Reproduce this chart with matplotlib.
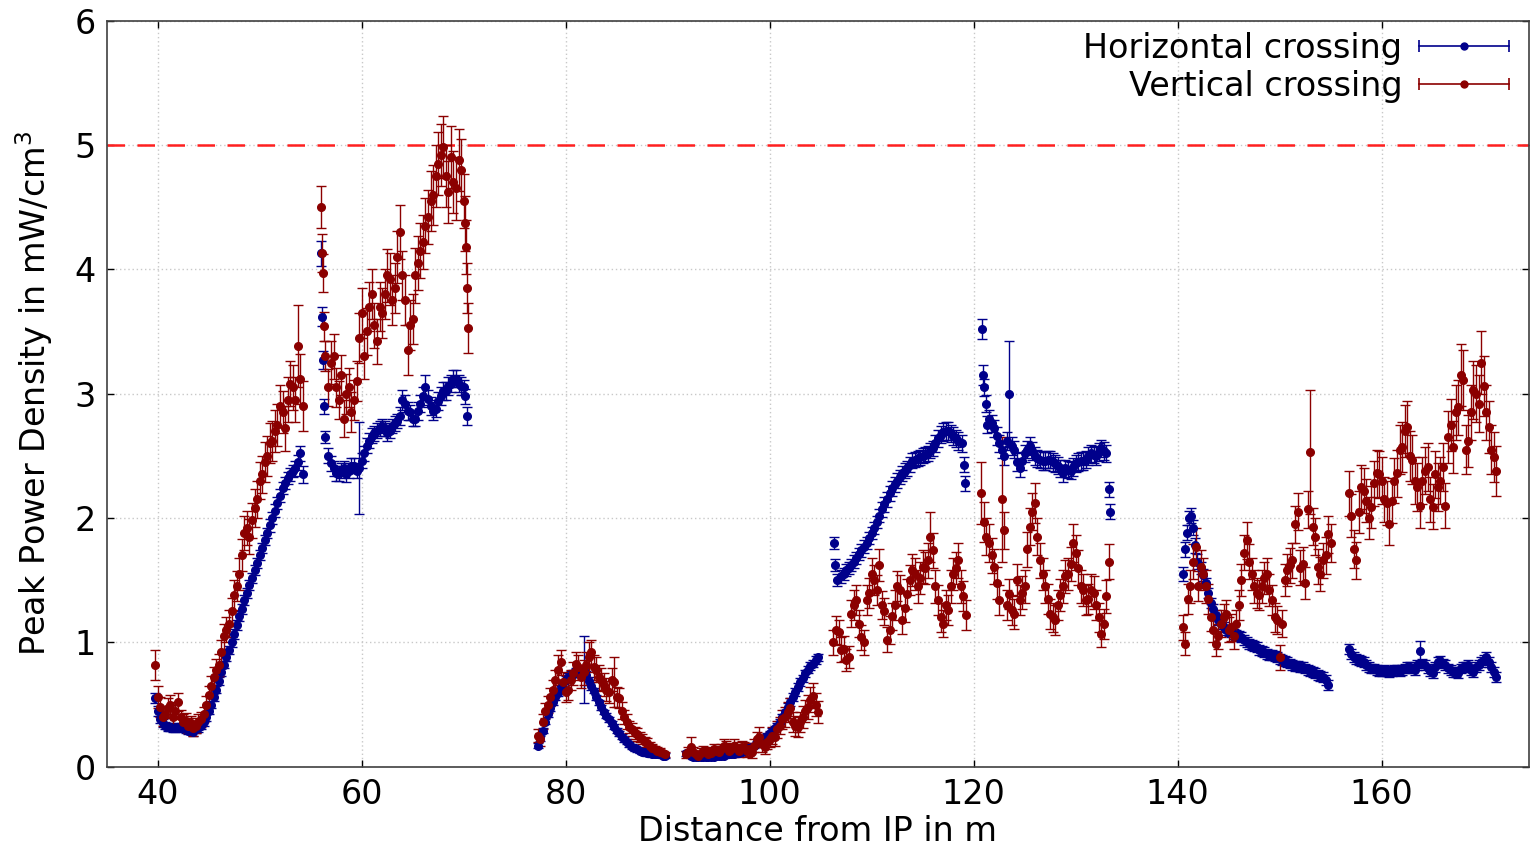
import numpy as np
import matplotlib.pyplot as plt
from matplotlib.lines import Line2D
from matplotlib.legend_handler import HandlerBase

# Peak power density along the beam line, binned per section.
# Each section: first bin centre [m], bin width [m], values, errors.

# --- horizontal crossing ---
h_a = (39.75, 0.25)
h_a_y = [0.55, 0.45, 0.38, 0.35, 0.33, 0.32, 0.32, 0.31, 0.31, 0.32,
         0.32, 0.31, 0.30, 0.29, 0.29, 0.28, 0.30, 0.31, 0.33, 0.36,
         0.40, 0.45, 0.50, 0.56, 0.62, 0.69, 0.76, 0.82, 0.88, 0.94,
         1.00, 1.07, 1.14, 1.21, 1.27, 1.34, 1.40, 1.46, 1.52, 1.58,
         1.64, 1.70, 1.76, 1.82, 1.88, 1.94, 2.00, 2.06, 2.12, 2.18,
         2.24, 2.28, 2.32, 2.35, 2.38, 2.40, 2.45, 2.52, 2.35]
h_a_e = [0.04, 0.04, 0.03, 0.03, 0.03, 0.03, 0.03, 0.03, 0.03, 0.03,
         0.03, 0.03, 0.03, 0.03, 0.03, 0.03, 0.03, 0.03, 0.03, 0.03,
         0.03, 0.03, 0.03, 0.03, 0.03, 0.03, 0.03, 0.03, 0.03, 0.03,
         0.04, 0.04, 0.04, 0.04, 0.04, 0.04, 0.04, 0.04, 0.04, 0.04,
         0.04, 0.04, 0.04, 0.04, 0.04, 0.05, 0.05, 0.05, 0.05, 0.05,
         0.05, 0.05, 0.05, 0.05, 0.05, 0.06, 0.06, 0.06, 0.07]

h_b1 = (56.0, 0.1)
h_b1_y = [4.13, 3.62, 3.27, 2.90, 2.65]
h_b1_e = [0.10, 0.08, 0.07, 0.06, 0.05]
h_b2 = (56.75, 0.25)
h_b2_y = [2.50, 2.44, 2.40, 2.36, 2.36, 2.38, 2.40, 2.35, 2.38, 2.42,
          2.42, 2.38, 2.40, 2.46, 2.52, 2.58, 2.62, 2.66, 2.68, 2.70,
          2.72, 2.74, 2.72, 2.68, 2.70, 2.74, 2.76, 2.78, 2.82, 2.95,
          2.92, 2.86, 2.85, 2.80, 2.80, 2.86, 2.92, 2.98, 3.05, 2.96,
          2.90, 2.86, 2.88, 2.94, 2.98, 3.02, 3.02, 3.06, 3.08, 3.12,
          3.12, 3.08, 3.06]
h_b2_e = [0.06, 0.06, 0.06, 0.06, 0.06, 0.06, 0.06, 0.06, 0.06, 0.06,
          0.06, 0.06, 0.37, 0.06, 0.06, 0.06, 0.06, 0.06, 0.06, 0.06,
          0.06, 0.06, 0.06, 0.06, 0.06, 0.06, 0.06, 0.06, 0.07, 0.08,
          0.07, 0.07, 0.06, 0.06, 0.06, 0.07, 0.07, 0.07, 0.10, 0.07,
          0.07, 0.07, 0.07, 0.07, 0.07, 0.07, 0.07, 0.07, 0.07, 0.07,
          0.07, 0.07, 0.07]
h_b3 = (70.0, 0.15)
h_b3_y = [3.05, 2.98, 2.82]
h_b3_e = [0.06, 0.06, 0.07]

h_c = (77.25, 0.25)
h_c_y = [0.17, 0.23, 0.29, 0.36, 0.42, 0.47, 0.52, 0.56, 0.59, 0.63,
         0.67, 0.70, 0.72, 0.74, 0.75, 0.76, 0.77, 0.78, 0.78, 0.74,
         0.69, 0.65, 0.61, 0.56, 0.52, 0.48, 0.44, 0.41, 0.38, 0.35,
         0.32, 0.29, 0.27, 0.24, 0.22, 0.20, 0.18, 0.16, 0.15, 0.14,
         0.13, 0.12, 0.12, 0.11, 0.11, 0.10, 0.10, 0.10, 0.10, 0.09,
         0.09]
h_c_e = [0.02, 0.02, 0.02, 0.02, 0.02, 0.02, 0.02, 0.02, 0.02, 0.02,
         0.03, 0.03, 0.03, 0.03, 0.03, 0.03, 0.03, 0.03, 0.27, 0.03,
         0.03, 0.03, 0.02, 0.02, 0.02, 0.02, 0.02, 0.02, 0.02, 0.02,
         0.02, 0.02, 0.02, 0.02, 0.02, 0.02, 0.02, 0.02, 0.02, 0.02,
         0.02, 0.02, 0.02, 0.02, 0.02, 0.02, 0.02, 0.02, 0.02, 0.02,
         0.02]

h_d = (91.75, 0.25)
h_d_y = [0.11, 0.10, 0.09, 0.08, 0.08, 0.08, 0.08, 0.08, 0.08, 0.08,
         0.08, 0.08, 0.09, 0.09, 0.09, 0.09, 0.10, 0.10, 0.10, 0.10,
         0.11, 0.11, 0.12, 0.13, 0.14, 0.15, 0.16, 0.17, 0.19, 0.20,
         0.22, 0.23, 0.25, 0.27, 0.29, 0.31, 0.33, 0.36, 0.40, 0.44,
         0.48, 0.52, 0.56, 0.60, 0.64, 0.68, 0.71, 0.75, 0.78, 0.81,
         0.83, 0.86, 0.88]
h_d_e = [0.02, 0.02, 0.02, 0.02, 0.02, 0.02, 0.02, 0.02, 0.02, 0.02,
         0.02, 0.02, 0.02, 0.02, 0.02, 0.02, 0.02, 0.02, 0.02, 0.02,
         0.02, 0.02, 0.02, 0.02, 0.02, 0.02, 0.02, 0.02, 0.02, 0.02,
         0.02, 0.02, 0.02, 0.02, 0.02, 0.02, 0.02, 0.02, 0.02, 0.02,
         0.03, 0.03, 0.03, 0.03, 0.03, 0.03, 0.03, 0.03, 0.03, 0.03,
         0.03, 0.03, 0.03]

h_e1 = (106.3, 0.15)
h_e1_y = [1.80, 1.62, 1.50]
h_e1_e = [0.05, 0.05, 0.05]
h_e2 = (107.0, 0.25)
h_e2_y = [1.53, 1.55, 1.58, 1.60, 1.62, 1.65, 1.68, 1.71, 1.74, 1.77,
          1.80, 1.84, 1.88, 1.92, 1.97, 2.02, 2.07, 2.11, 2.15, 2.20,
          2.24, 2.27, 2.30, 2.33, 2.36, 2.38, 2.40, 2.43, 2.46, 2.47,
          2.48, 2.49, 2.50, 2.51, 2.52, 2.54, 2.56, 2.60, 2.64, 2.67,
          2.69, 2.70, 2.70, 2.68, 2.66, 2.64, 2.62]
h_e2_e = [0.05, 0.05, 0.05, 0.05, 0.05, 0.05, 0.05, 0.05, 0.05, 0.05,
          0.05, 0.05, 0.05, 0.05, 0.05, 0.05, 0.06, 0.06, 0.06, 0.06,
          0.06, 0.06, 0.06, 0.06, 0.06, 0.06, 0.06, 0.06, 0.06, 0.06,
          0.06, 0.06, 0.06, 0.06, 0.06, 0.06, 0.06, 0.07, 0.07, 0.07,
          0.07, 0.07, 0.07, 0.07, 0.07, 0.07, 0.07]
h_e3 = (118.9, 0.12)
h_e3_y = [2.60, 2.43, 2.28]
h_e3_e = [0.07, 0.06, 0.06]

h_f1 = (120.8, 0.12)
h_f1_y = [3.52, 3.15, 3.05, 2.92, 2.75]
h_f1_e = [0.08, 0.08, 0.07, 0.07, 0.07]
h_f2 = (121.5, 0.25)
h_f2_y = [2.80, 2.76, 2.72, 2.66, 2.60, 2.55, 2.50, 2.62, 3.00, 2.58,
          2.55, 2.45, 2.40, 2.46, 2.52, 2.55, 2.58, 2.54, 2.50, 2.48,
          2.47, 2.46, 2.46, 2.47, 2.47, 2.45, 2.44, 2.42, 2.40, 2.36,
          2.40, 2.39, 2.38, 2.41, 2.44, 2.45, 2.46, 2.46, 2.47, 2.50,
          2.52, 2.51, 2.50, 2.53, 2.56, 2.54, 2.52]
h_f2_e = [0.07, 0.07, 0.07, 0.07, 0.07, 0.07, 0.07, 0.07, 0.42, 0.07,
          0.07, 0.07, 0.07, 0.07, 0.07, 0.07, 0.07, 0.07, 0.07, 0.07,
          0.07, 0.07, 0.07, 0.07, 0.07, 0.07, 0.07, 0.07, 0.07, 0.07,
          0.07, 0.07, 0.07, 0.07, 0.07, 0.07, 0.07, 0.07, 0.07, 0.07,
          0.07, 0.07, 0.07, 0.07, 0.07, 0.07, 0.07]
h_f3 = (133.3, 0.1)
h_f3_y = [2.23, 2.05]
h_f3_e = [0.06, 0.06]

h_g1 = (140.5, 0.2)
h_g1_y = [1.55, 1.75, 1.88, 2.00, 2.02, 1.92, 1.78, 1.65]
h_g1_e = [0.06, 0.06, 0.06, 0.06, 0.06, 0.06, 0.06, 0.06]
h_g2 = (142.25, 0.25)
h_g2_y = [1.60, 1.54, 1.48, 1.40, 1.32, 1.27, 1.22, 1.18, 1.15, 1.12,
          1.10, 1.09, 1.08, 1.07, 1.06, 1.05, 1.04, 1.02, 1.00, 0.99,
          0.98, 0.97, 0.96, 0.94, 0.93, 0.92, 0.91, 0.90, 0.90, 0.89,
          0.88, 0.87, 0.86, 0.85, 0.84, 0.83, 0.82, 0.81, 0.81, 0.80,
          0.80, 0.79, 0.78, 0.77, 0.76, 0.75, 0.74, 0.73, 0.72, 0.70,
          0.66]
h_g2_e = [0.05, 0.05, 0.04, 0.04, 0.04, 0.04, 0.04, 0.04, 0.04, 0.04,
          0.04, 0.04, 0.04, 0.04, 0.04, 0.04, 0.04, 0.04, 0.04, 0.04,
          0.04, 0.04, 0.04, 0.04, 0.04, 0.04, 0.04, 0.04, 0.04, 0.04,
          0.04, 0.04, 0.04, 0.04, 0.04, 0.04, 0.04, 0.04, 0.04, 0.04,
          0.04, 0.04, 0.04, 0.04, 0.04, 0.04, 0.04, 0.04, 0.04, 0.04,
          0.04]

h_h = (156.75, 0.25)
h_h_y = [0.95, 0.91, 0.88, 0.87, 0.86, 0.85, 0.84, 0.82, 0.80, 0.79,
         0.79, 0.78, 0.77, 0.77, 0.78, 0.77, 0.76, 0.77, 0.78, 0.78,
         0.77, 0.78, 0.79, 0.80, 0.80, 0.79, 0.78, 0.82, 0.93, 0.83,
         0.82, 0.79, 0.77, 0.75, 0.80, 0.84, 0.85, 0.83, 0.82, 0.79,
         0.78, 0.76, 0.76, 0.75, 0.79, 0.80, 0.80, 0.82, 0.78, 0.76,
         0.80, 0.82, 0.84, 0.86, 0.88, 0.84, 0.80, 0.76, 0.72]
h_h_e = [0.04, 0.04, 0.04, 0.04, 0.04, 0.04, 0.04, 0.04, 0.04, 0.04,
         0.04, 0.04, 0.04, 0.04, 0.04, 0.04, 0.04, 0.04, 0.04, 0.04,
         0.04, 0.04, 0.04, 0.04, 0.04, 0.04, 0.04, 0.04, 0.08, 0.04,
         0.04, 0.04, 0.04, 0.04, 0.04, 0.04, 0.04, 0.04, 0.04, 0.04,
         0.04, 0.04, 0.04, 0.04, 0.04, 0.04, 0.04, 0.04, 0.04, 0.04,
         0.04, 0.04, 0.04, 0.04, 0.04, 0.04, 0.04, 0.04, 0.04]

# --- vertical crossing ---
v_a = (39.75, 0.25)
v_a_y = [0.82, 0.56, 0.48, 0.40, 0.42, 0.47, 0.50, 0.40, 0.45, 0.52,
         0.40, 0.36, 0.37, 0.33, 0.35, 0.31, 0.33, 0.36, 0.38, 0.42,
         0.50, 0.58, 0.65, 0.72, 0.78, 0.82, 0.92, 1.05, 1.10, 1.15,
         1.25, 1.38, 1.45, 1.55, 1.70, 1.88, 1.92, 1.85, 1.98, 2.08,
         2.15, 2.30, 2.35, 2.45, 2.50, 2.60, 2.62, 2.70, 2.75, 2.90,
         2.85, 2.72, 2.95, 3.08, 3.05, 2.95, 3.38, 3.12, 2.90]
v_a_e = [0.12, 0.09, 0.08, 0.07, 0.07, 0.08, 0.08, 0.07, 0.07, 0.07,
         0.06, 0.06, 0.06, 0.06, 0.06, 0.06, 0.06, 0.06, 0.06, 0.06,
         0.07, 0.07, 0.08, 0.08, 0.09, 0.09, 0.10, 0.10, 0.10, 0.11,
         0.11, 0.12, 0.12, 0.13, 0.13, 0.14, 0.14, 0.14, 0.14, 0.15,
         0.15, 0.15, 0.15, 0.16, 0.16, 0.16, 0.16, 0.17, 0.17, 0.17,
         0.17, 0.18, 0.18, 0.18, 0.18, 0.18, 0.33, 0.20, 0.20]

v_b1 = (56.0, 0.1)
v_b1_y = [4.50, 4.13, 3.97, 3.54, 3.30]
v_b1_e = [0.17, 0.15, 0.15, 0.12, 0.12]
v_b2 = (56.75, 0.25)
v_b2_y = [3.05, 3.25, 3.30, 3.05, 2.95, 3.15, 2.80, 3.00, 3.05, 2.85,
          2.95, 3.10, 3.45, 3.65, 3.30, 3.50, 3.70, 3.80, 3.55, 3.42,
          3.70, 3.65, 3.80, 3.95, 3.92, 3.75, 3.85, 4.10, 4.30, 3.95,
          3.75, 3.35, 3.55, 3.60, 3.95, 4.05, 4.15, 4.22, 4.35, 4.42,
          4.55, 4.60, 4.75, 4.85, 4.92, 4.98, 4.75, 4.62, 4.90, 4.70,
          4.65, 4.88, 4.80]
v_b2_e = [0.15, 0.17, 0.18, 0.16, 0.15, 0.16, 0.15, 0.16, 0.16, 0.16,
          0.16, 0.16, 0.20, 0.20, 0.18, 0.19, 0.20, 0.20, 0.18, 0.18,
          0.20, 0.20, 0.20, 0.21, 0.21, 0.20, 0.20, 0.21, 0.22, 0.20,
          0.20, 0.20, 0.20, 0.20, 0.22, 0.22, 0.22, 0.22, 0.22, 0.22,
          0.24, 0.24, 0.25, 0.25, 0.25, 0.25, 0.25, 0.25, 0.25, 0.25,
          0.25, 0.25, 0.25]
v_b3 = (70.0, 0.1)
v_b3_y = [4.55, 4.37, 4.18, 3.85, 3.53]
v_b3_e = [0.22, 0.22, 0.22, 0.20, 0.20]

v_c = (77.25, 0.25)
v_c_y = [0.25, 0.22, 0.36, 0.45, 0.50, 0.56, 0.62, 0.70, 0.78, 0.84,
         0.68, 0.60, 0.62, 0.70, 0.75, 0.83, 0.80, 0.72, 0.76, 0.82,
         0.88, 0.92, 0.80, 0.78, 0.72, 0.70, 0.66, 0.62, 0.60, 0.70,
         0.68, 0.56, 0.55, 0.45, 0.40, 0.36, 0.32, 0.30, 0.27, 0.26,
         0.24, 0.22, 0.20, 0.19, 0.17, 0.15, 0.14, 0.13, 0.12, 0.11,
         0.10]
v_c_e = [0.05, 0.05, 0.06, 0.06, 0.07, 0.07, 0.08, 0.08, 0.12, 0.10,
         0.08, 0.08, 0.08, 0.08, 0.09, 0.09, 0.10, 0.09, 0.10, 0.10,
         0.12, 0.10, 0.10, 0.10, 0.10, 0.09, 0.09, 0.09, 0.09, 0.09,
         0.20, 0.08, 0.08, 0.07, 0.06, 0.06, 0.05, 0.05, 0.05, 0.05,
         0.04, 0.04, 0.04, 0.04, 0.03, 0.03, 0.03, 0.03, 0.03, 0.02,
         0.02]

v_d = (91.75, 0.25)
v_d_y = [0.10, 0.12, 0.16, 0.12, 0.10, 0.09, 0.11, 0.13, 0.12, 0.10,
         0.11, 0.14, 0.13, 0.12, 0.14, 0.17, 0.16, 0.13, 0.14, 0.17,
         0.15, 0.13, 0.16, 0.15, 0.13, 0.14, 0.12, 0.17, 0.22, 0.24,
         0.18, 0.16, 0.20, 0.22, 0.25, 0.24, 0.30, 0.33, 0.38, 0.40,
         0.44, 0.47, 0.36, 0.33, 0.32, 0.36, 0.40, 0.45, 0.48, 0.54,
         0.57, 0.50, 0.44]
v_d_e = [0.03, 0.04, 0.08, 0.04, 0.03, 0.03, 0.04, 0.04, 0.04, 0.04,
         0.04, 0.04, 0.04, 0.04, 0.04, 0.05, 0.05, 0.05, 0.05, 0.05,
         0.05, 0.05, 0.05, 0.05, 0.05, 0.05, 0.05, 0.05, 0.06, 0.08,
         0.06, 0.06, 0.06, 0.06, 0.07, 0.07, 0.07, 0.07, 0.08, 0.08,
         0.08, 0.08, 0.08, 0.08, 0.08, 0.08, 0.09, 0.09, 0.10, 0.10,
         0.10, 0.09, 0.09]

v_e = (106.25, 0.25)
v_e_y = [1.00, 1.10, 1.08, 0.94, 0.95, 0.86, 0.88, 1.23, 1.30, 1.34,
         1.15, 1.04, 1.00, 1.34, 1.40, 1.55, 1.50, 1.42, 1.62, 1.30,
         1.25, 1.02, 1.10, 1.21, 1.30, 1.45, 1.42, 1.18, 1.28, 1.39,
         1.50, 1.58, 1.55, 1.45, 1.52, 1.61, 1.60, 1.66, 1.85, 1.74,
         1.45, 1.34, 1.20, 1.15, 1.30, 1.26, 1.45, 1.55, 1.60, 1.66,
         1.45, 1.37, 1.22]
v_e_e = [0.10, 0.11, 0.10, 0.10, 0.10, 0.09, 0.09, 0.11, 0.12, 0.12,
         0.11, 0.10, 0.10, 0.12, 0.12, 0.13, 0.12, 0.12, 0.13, 0.11,
         0.11, 0.10, 0.11, 0.11, 0.12, 0.12, 0.12, 0.11, 0.12, 0.12,
         0.12, 0.13, 0.13, 0.13, 0.13, 0.13, 0.13, 0.14, 0.20, 0.14,
         0.13, 0.12, 0.12, 0.11, 0.12, 0.12, 0.13, 0.13, 0.13, 0.14,
         0.13, 0.12, 0.12]

v_f = (120.75, 0.25)
v_f_y = [2.20, 1.97, 1.85, 1.80, 1.70, 1.61, 1.48, 1.34, 2.15, 1.90,
         1.30, 1.39, 1.26, 1.23, 1.50, 1.34, 1.40, 1.45, 1.75, 1.93,
         2.05, 2.12, 1.85, 1.66, 1.55, 1.45, 1.35, 1.23, 1.20, 1.18,
         1.30, 1.38, 1.45, 1.53, 1.55, 1.63, 1.80, 1.72, 1.60, 1.45,
         1.42, 1.34, 1.35, 1.42, 1.40, 1.30, 1.20, 1.07, 1.15, 1.37,
         1.65]
v_f_e = [0.25, 0.16, 0.15, 0.15, 0.14, 0.14, 0.13, 0.12, 0.50, 0.15,
         0.12, 0.12, 0.12, 0.12, 0.13, 0.12, 0.13, 0.13, 0.14, 0.15,
         0.15, 0.16, 0.15, 0.14, 0.13, 0.13, 0.12, 0.12, 0.12, 0.12,
         0.12, 0.13, 0.13, 0.13, 0.13, 0.14, 0.15, 0.14, 0.14, 0.13,
         0.13, 0.12, 0.12, 0.13, 0.13, 0.12, 0.12, 0.11, 0.12, 0.13,
         0.14]

v_g = (140.5, 0.25)
v_g_y = [1.12, 0.99, 1.35, 1.45, 1.65, 1.77, 1.45, 1.61, 1.55, 1.45,
         1.35, 1.20, 1.10, 0.99, 1.05, 1.15, 1.20, 1.23, 1.10, 1.12,
         1.05, 1.15, 1.30, 1.50, 1.72, 1.82, 1.65, 1.55, 1.45, 1.40,
         1.38, 1.45, 1.52, 1.55, 1.42, 1.34, 1.20, 1.18, 0.88, 1.15,
         1.50, 1.58, 1.62, 1.66, 1.95, 2.05, 1.60, 1.63, 1.48, 2.07,
         2.53, 1.93, 1.85, 1.61, 1.55, 1.66, 1.70, 1.87, 1.80]
v_g_e = [0.10, 0.09, 0.12, 0.13, 0.14, 0.15, 0.12, 0.13, 0.13, 0.13,
         0.12, 0.11, 0.10, 0.10, 0.10, 0.11, 0.11, 0.11, 0.10, 0.11,
         0.10, 0.11, 0.12, 0.13, 0.14, 0.15, 0.14, 0.13, 0.13, 0.12,
         0.12, 0.13, 0.13, 0.13, 0.13, 0.12, 0.12, 0.11, 0.10, 0.11,
         0.13, 0.13, 0.14, 0.14, 0.15, 0.15, 0.14, 0.14, 0.13, 0.15,
         0.50, 0.15, 0.15, 0.14, 0.14, 0.14, 0.15, 0.15, 0.15]

v_h = (156.75, 0.25)
v_h_y = [2.20, 2.02, 1.75, 1.66, 2.05, 2.25, 2.22, 2.14, 2.00, 2.09,
         2.28, 2.36, 2.35, 2.30, 2.15, 2.12, 1.95, 2.14, 2.30, 2.36,
         2.55, 2.57, 2.70, 2.73, 2.50, 2.47, 2.30, 2.25, 2.10, 2.30,
         2.38, 2.41, 2.15, 2.09, 2.35, 2.25, 2.30, 2.41, 2.10, 2.65,
         2.75, 2.57, 2.85, 2.89, 3.15, 3.11, 2.55, 2.62, 2.85, 3.03,
         3.00, 2.92, 3.25, 3.06, 2.85, 2.73, 2.55, 2.49, 2.38]
v_h_e = [0.18, 0.17, 0.15, 0.15, 0.17, 0.18, 0.18, 0.17, 0.17, 0.17,
         0.18, 0.19, 0.19, 0.19, 0.18, 0.18, 0.17, 0.18, 0.18, 0.19,
         0.20, 0.20, 0.21, 0.21, 0.20, 0.20, 0.19, 0.19, 0.18, 0.19,
         0.19, 0.19, 0.18, 0.18, 0.19, 0.19, 0.19, 0.19, 0.18, 0.21,
         0.21, 0.21, 0.22, 0.22, 0.25, 0.24, 0.20, 0.21, 0.22, 0.23,
         0.23, 0.23, 0.25, 0.24, 0.22, 0.21, 0.20, 0.20, 0.20]

labels = ["Horizontal crossing", "Vertical crossing"]
limit = 5.0

h_sections = [(h_a, h_a_y, h_a_e), (h_b1, h_b1_y, h_b1_e), (h_b2, h_b2_y, h_b2_e),
              (h_b3, h_b3_y, h_b3_e), (h_c, h_c_y, h_c_e), (h_d, h_d_y, h_d_e),
              (h_e1, h_e1_y, h_e1_e), (h_e2, h_e2_y, h_e2_e), (h_e3, h_e3_y, h_e3_e),
              (h_f1, h_f1_y, h_f1_e), (h_f2, h_f2_y, h_f2_e), (h_f3, h_f3_y, h_f3_e),
              (h_g1, h_g1_y, h_g1_e), (h_g2, h_g2_y, h_g2_e), (h_h, h_h_y, h_h_e)]
v_sections = [(v_a, v_a_y, v_a_e), (v_b1, v_b1_y, v_b1_e), (v_b2, v_b2_y, v_b2_e),
              (v_b3, v_b3_y, v_b3_e), (v_c, v_c_y, v_c_e), (v_d, v_d_y, v_d_e),
              (v_e, v_e_y, v_e_e), (v_f, v_f_y, v_f_e), (v_g, v_g_y, v_g_e), (v_h, v_h_y, v_h_e)]


def collect(sections):
    xs, ys, es = [], [], []
    for (x0, dx), y, e in sections:
        xs.append(x0 + dx * np.arange(len(y)))
        ys.append(y)
        es.append(e)
    return np.concatenate(xs), np.concatenate(ys), np.concatenate(es)


class HorizontalBarHandler(HandlerBase):
    # gnuplot-like key sample: horizontal bar with end ticks and a dot in the middle
    def create_artists(self, legend, orig_handle, xdescent, ydescent, width, height, fontsize, trans):
        c = orig_handle.get_color()
        y = height / 2 - ydescent
        x0, x1 = -xdescent, width - xdescent
        line = Line2D([x0, x1], [y, y], color=c, lw=1.2)
        caps = Line2D([x0, x1], [y, y], ls="none", marker="|", ms=8, mew=1.2, mec=c)
        dot = Line2D([(x0 + x1) / 2], [y], ls="none", marker="o", ms=5, color=c)
        for a in (line, caps, dot):
            a.set_transform(trans)
        return [line, caps, dot]


blue = "#00008b"
red = "#8b0000"

fig = plt.figure(figsize=(15.3, 8.49), dpi=100)
ax = fig.add_axes([0.0697, 0.0969, 0.9297, 0.8789])

ax.axhline(limit, color="#ff2020", lw=1.8, ls=(0, (7, 5)), zorder=1)

for sections, c in ((h_sections, blue), (v_sections, red)):
    x, y, e = collect(sections)
    ax.errorbar(x, y, yerr=e, fmt="o", ms=5.5, color=c, ecolor=c, elinewidth=1.0,
                capsize=3.5, capthick=1.0, zorder=3)

ax.set_xlim(35, 174.45)
ax.set_ylim(0, 6)
ax.set_xticks([40, 60, 80, 100, 120, 140, 160])
ax.set_yticks([0, 1, 2, 3, 4, 5, 6])
ax.grid(True, color="#c8c8c8", ls=(0, (1, 2)), lw=1.0)
ax.set_axisbelow(True)
ax.tick_params(direction="in", length=5, width=1, top=True, right=True, labelsize=24, pad=8)
for s in ax.spines.values():
    s.set_color("#404040")
    s.set_linewidth(1.2)

ax.set_xlabel("Distance from IP in m", fontsize=24, labelpad=3)
ax.set_ylabel("Peak Power Density in mW/cm$^3$", fontsize=24, labelpad=14)

handles = [Line2D([], [], color=blue), Line2D([], [], color=red)]
ax.legend(handles, labels, loc="upper right", bbox_to_anchor=(0.9975, 1.007),
          frameon=False, fontsize=24, markerfirst=False,
          handler_map={Line2D: HorizontalBarHandler()}, handlelength=2.7, handletextpad=0.5,
          labelspacing=0.15, borderaxespad=0.3, borderpad=0.2)

fig.savefig("out.png", dpi=100)
